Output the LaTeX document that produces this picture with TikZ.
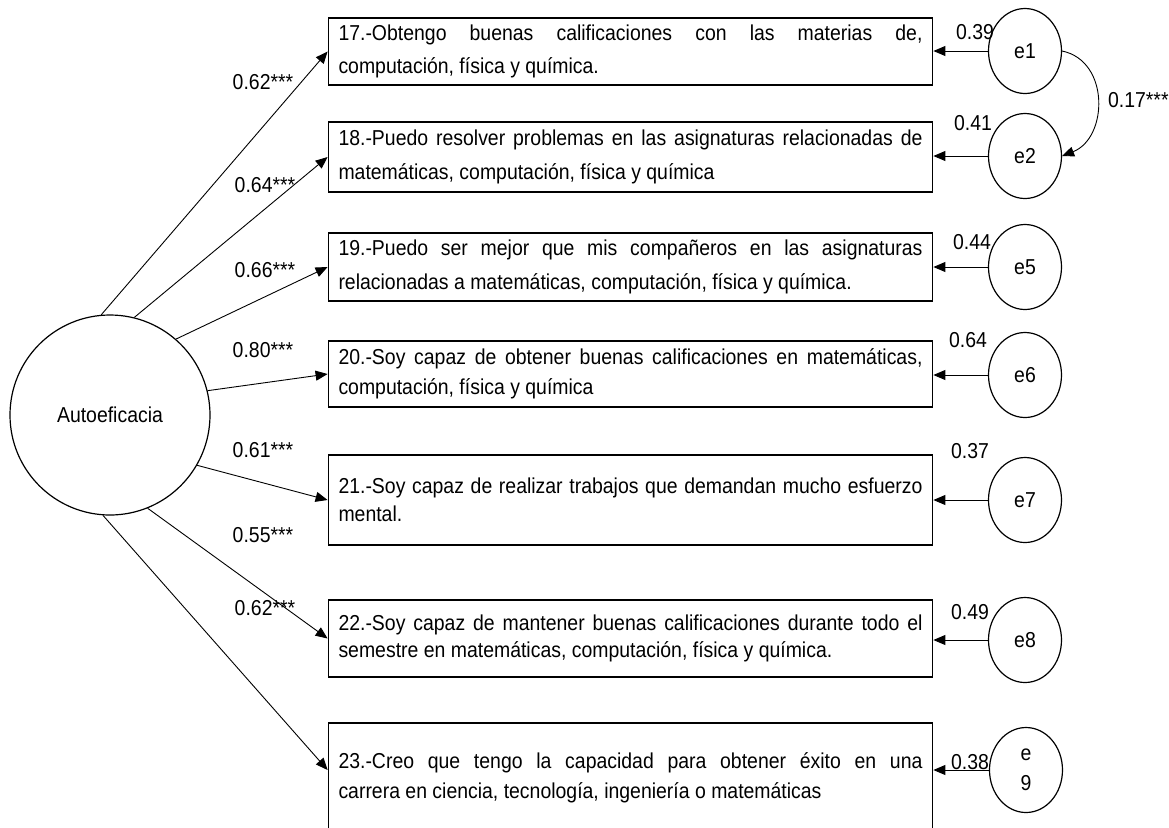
\documentclass[tikz,border=0pt]{standalone}
\usepackage{fontspec}
\setmainfont{Liberation Sans}[FakeStretch=0.9]
\usetikzlibrary{arrows.meta,shapes.geometric}

\begin{document}
\begin{tikzpicture}[x=0.5pt,y=-0.5pt,
    font=\fontsize{10.8}{15}\selectfont,
    item/.style={draw,line width=0.9pt,text width=292pt,inner xsep=5pt,
      inner ysep=2pt,align=justify},
    loose/.style={font=\fontsize{10.8}{16.8}\selectfont},
    tight/.style={font=\fontsize{10.8}{13.8}\selectfont},
    err/.style={draw,ellipse,line width=0.6pt,minimum width=36.5pt,
      minimum height=42.5pt,inner sep=0pt},
    load/.style={-{Triangle[length=6pt,width=5pt]},line width=0.45pt}]
  \useasboundingbox (0,0) rectangle (1169,827);

  % Latent factor
  \node[draw,circle,line width=0.6pt,minimum size=100pt] (auto) at (110,415) {Autoeficacia};

  % Items
  \node[item,loose,minimum height=33.5pt] (b17) at (630.5,51.5)
    {17.-Obtengo buenas calificaciones con las materias de,\linebreak computación, física y química.};
  \node[item,loose,minimum height=35pt] (b18) at (630.5,157)
    {18.-Puedo resolver problemas en las asignaturas relacionadas de\linebreak matemáticas, computación, física y química};
  \node[item,loose,minimum height=34pt] (b19) at (630.5,267)
    {19.-Puedo ser mejor que mis compañeros en las asignaturas\linebreak relacionadas a matemáticas, computación, física y química.};
  \node[item,minimum height=33pt] (b20) at (630.5,374)
    {20.-Soy capaz de obtener buenas calificaciones en matemáticas,\linebreak computación, física y química};
  \node[item,tight,minimum height=45pt] (b21) at (630.5,500)
    {21.-Soy capaz de realizar trabajos que demandan mucho esfuerzo\linebreak mental.};
  \node[item,tight,minimum height=38.5pt] (b22) at (630.5,638.5)
    {22.-Soy capaz de mantener buenas calificaciones durante todo el\linebreak semestre en matemáticas, computación, física y química.};
  \node[item,minimum height=55pt] (b23) at (630.5,778)
    {23.-Creo que tengo la capacidad para obtener éxito en una\linebreak carrera en ciencia, tecnología, ingeniería o matemáticas};

  % Error terms
  \node[err] (e1) at (1025,51) {e1};
  \node[err] (e2) at (1025,156) {e2};
  \node[err] (e5) at (1025,267) {e5};
  \node[err] (e6) at (1025,375) {e6};
  \node[err] (e7) at (1025,500) {e7};
  \node[err] (e8) at (1025,640) {e8};
  \node[err,align=center] (e9) at (1026,770) {e\\9};

  % Loadings
  \draw[load] (auto.95) -- (b17.west);
  \draw[load] (auto.76) -- (b18.west);
  \draw[load] (auto.49) -- (b19.west);
  \draw[load] (auto.14) -- (b20.west);
  \draw[load] (auto.-30) -- (b21.west);
  \draw[load] (auto.-68) -- (b22.west);
  \draw[load] (auto.-94) -- (b23.west |- e9);
  \node (l17) at (263,82) {0.62***};
  \node (l18) at (265,185) {0.64***};
  \node (l19) at (265,270) {0.66***};
  \node (l20) at (263,350) {0.80***};
  \node (l21) at (263,450) {0.61***};
  \node (l22) at (263,535) {0.55***};
  \node (l23) at (265,608) {0.62***};

  % Errors to items
  \foreach \e/\b in {e1/b17,e2/b18,e5/b19,e6/b20,e7/b21,e8/b22,e9/b23}
    \draw[load] (\e.west) -- (\e.west -| \b.east);
  \node (v1) at (975,32) {0.39};
  \node (v2) at (973,123) {0.41};
  \node (v5) at (972,242) {0.44};
  \node (v6) at (968,340) {0.64};
  \node (v7) at (970,451) {0.37};
  \node (v8) at (970,612) {0.49};
  \node (v9) at (970,762) {0.38};

  % Covariance
  \draw[load] (e1.east) .. controls +(48,10) and +(46,-18) .. (e2.east);
  \node[anchor=west] (c12) at (1101,100) {0.17***};
\end{tikzpicture}
\end{document}
